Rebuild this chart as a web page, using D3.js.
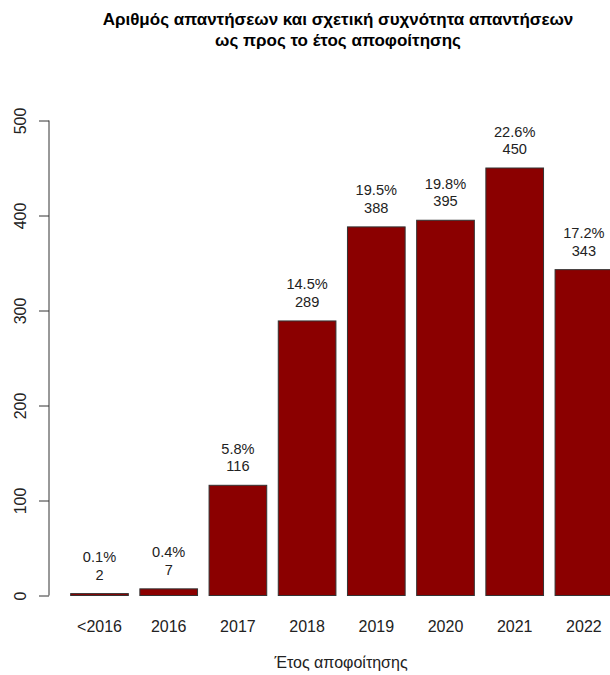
<!DOCTYPE html>
<html>
<head>
<meta charset="utf-8">
<script src="https://cdn.jsdelivr.net/npm/d3@7"></script>
<style>
  html, body { margin: 0; padding: 0; background: #fff; }
  svg { display: block; }
  text { font-family: "Liberation Sans", Arial, sans-serif; }
</style>
</head>
<body>
<svg id="chart" width="610" height="675"></svg>
<script>
const categories = ["<2016", "2016", "2017", "2018", "2019", "2020", "2021", "2022"];
const counts = [2, 7, 116, 289, 388, 395, 450, 343];
const percents = [0.1, 0.4, 5.8, 14.5, 19.5, 19.8, 22.6, 17.2];
const yTicks = [0, 100, 200, 300, 400, 500];
const titleLines = ["Αριθμός απαντήσεων και σχετική συχνότητα απαντήσεων", "ως προς το έτος αποφοίτησης"];
const xTitle = "Έτος αποφοίτησης";

const svg = d3.select("#chart");

const x = d3.scaleBand()
  .domain(categories)
  .range([64.9, 618.5])
  .paddingInner(1 / 6)
  .paddingOuter(1 / 12);

const y = d3.scaleLinear().domain([0, 500]).range([595.5, 120.5]);

const plotCenter = 338;

// title
svg.append("g").selectAll("text").data(titleLines).join("text")
  .attr("x", plotCenter)
  .attr("y", (d, i) => 25 + i * 21)
  .attr("text-anchor", "middle")
  .attr("font-weight", "bold")
  .attr("font-size", 17)
  .attr("fill", "#000")
  .text(d => d);

// bars
svg.append("g").selectAll("rect").data(categories).join("rect")
  .attr("x", d => x(d))
  .attr("y", (d, i) => y(counts[i]))
  .attr("width", x.bandwidth())
  .attr("height", (d, i) => y(0) - y(counts[i]))
  .attr("fill", "#8B0000")
  .attr("stroke", "#333")
  .attr("stroke-width", 1);

// bar labels
const lab = svg.append("g").attr("font-size", 14.6).attr("fill", "#222").attr("text-anchor", "middle");
lab.selectAll("text.pct").data(categories).join("text").attr("class", "pct")
  .attr("x", d => x(d) + x.bandwidth() / 2)
  .attr("y", (d, i) => y(counts[i]) - 31.5)
  .text((d, i) => percents[i].toFixed(1) + "%");
lab.selectAll("text.cnt").data(categories).join("text").attr("class", "cnt")
  .attr("x", d => x(d) + x.bandwidth() / 2)
  .attr("y", (d, i) => y(counts[i]) - 14)
  .text((d, i) => counts[i]);

// y axis
const yAxis = d3.axisLeft(y).tickValues(yTicks).tickSize(10).tickPadding(0).tickFormat(d3.format("d"));
const gy = svg.append("g").attr("transform", "translate(49,0)").call(yAxis);
gy.select(".domain").attr("stroke", "#333").attr("d", `M0,${y(0)}V${y(500)}`);
gy.selectAll(".tick line").attr("stroke", "#333");
gy.selectAll(".tick text")
  .attr("font-size", 16)
  .attr("fill", "#222")
  .attr("font-family", "Liberation Sans, Arial, sans-serif")
  .attr("text-anchor", "middle")
  .attr("x", 0)
  .attr("y", 0)
  .attr("dy", null)
  .attr("transform", "translate(-23,0) rotate(-90)");

// x tick labels (no axis line, as in reference)
const xAxis = d3.axisBottom(x).tickSize(0).tickPadding(0);
const gx = svg.append("g").attr("transform", "translate(0,631.5)").call(xAxis);
gx.select(".domain").remove();
gx.selectAll(".tick text")
  .attr("font-size", 16)
  .attr("fill", "#222")
  .attr("font-family", "Liberation Sans, Arial, sans-serif")
  .attr("dy", null)
  .attr("y", 0);

// x title
svg.append("text")
  .attr("x", 341)
  .attr("y", 668)
  .attr("text-anchor", "middle")
  .attr("font-size", 16)
  .attr("fill", "#222")
  .text(xTitle);
</script>
</body>
</html>
